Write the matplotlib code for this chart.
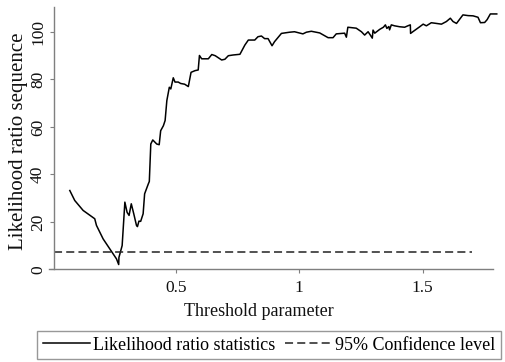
import matplotlib
matplotlib.use("Agg")
import matplotlib.pyplot as plt
from matplotlib.lines import Line2D

plt.rcParams['font.family'] = ['Liberation Serif', 'DejaVu Serif']
plt.rcParams['lines.scale_dashes'] = False

# Threshold parameter grid and likelihood ratio statistics
threshold = [0.071, 0.091, 0.125, 0.172, 0.179, 0.206, 0.233, 0.260, 0.269, 0.270,
             0.283, 0.294, 0.303, 0.311, 0.320, 0.330, 0.341, 0.345, 0.351, 0.358,
             0.368, 0.374, 0.389, 0.393, 0.399, 0.407, 0.423, 0.433, 0.439, 0.450,
             0.457, 0.464, 0.474, 0.480, 0.490, 0.497, 0.510, 0.520, 0.536, 0.551,
             0.562, 0.578, 0.591, 0.596, 0.605, 0.632, 0.646, 0.660, 0.686, 0.699,
             0.713, 0.732, 0.760, 0.780, 0.794, 0.820, 0.833, 0.847, 0.860, 0.874,
             0.890, 0.900, 0.928, 0.961, 0.981, 1.015, 1.029, 1.049, 1.083, 1.117,
             1.137, 1.150, 1.184, 1.191, 1.197, 1.231, 1.252, 1.265, 1.279, 1.288,
             1.296, 1.299, 1.306, 1.326, 1.341, 1.349, 1.355, 1.363, 1.366, 1.373,
             1.386, 1.407, 1.427, 1.440, 1.450, 1.451, 1.460, 1.488, 1.502, 1.515,
             1.535, 1.556, 1.576, 1.596, 1.612, 1.623, 1.637, 1.650, 1.663, 1.684,
             1.704, 1.724, 1.734, 1.751, 1.761, 1.774, 1.800]
lr_stat = [33.2, 29.0, 24.8, 21.3, 18.5, 12.8, 8.6, 4.4, 2.0, 5.0,
           10.0, 28.3, 24.0, 22.7, 27.6, 23.4, 18.5, 18.0, 20.3, 20.2,
           23.4, 31.8, 36.0, 37.0, 52.8, 54.5, 52.8, 52.5, 58.4, 60.5,
           62.7, 71.1, 76.7, 76.0, 80.7, 78.9, 78.9, 78.3, 78.0, 77.0,
           83.0, 83.7, 84.0, 90.1, 88.7, 88.7, 90.5, 90.0, 88.2, 88.5,
           90.0, 90.3, 90.6, 94.5, 96.6, 96.6, 98.0, 98.3, 97.2, 97.2,
           94.2, 95.9, 99.4, 99.9, 100.1, 99.2, 99.9, 100.3, 99.6, 97.6,
           97.6, 99.2, 99.5, 97.8, 102.0, 101.6, 100.1, 98.7, 100.1, 98.7,
           97.4, 100.8, 99.5, 101.1, 102.0, 103.0, 101.5, 102.3, 100.9, 103.0,
           102.6, 102.2, 102.0, 102.6, 103.0, 99.4, 100.1, 102.2, 103.3, 102.6,
           103.9, 103.6, 103.3, 104.4, 105.8, 104.4, 103.6, 105.4, 107.2, 106.9,
           106.8, 106.2, 103.9, 104.0, 105.2, 107.6, 107.6]

crit_x = [0.0085, 1.70]
crit_value = 7.35

xticks = [0.5, 1, 1.5]
xtick_labels = ["0.5", "1", "1.5"]
yticks = [0, 20, 40, 60, 80, 100]
ytick_labels = ["0", "20", "40", "60", "80", "100"]

W, H = 505, 362
fig = plt.figure(figsize=(W / 100, H / 100), dpi=100)
ax_l, ax_r, ax_t, ax_b = 49.3, 493.3, 7.3, 269.3
ax = fig.add_axes([ax_l / W, 1 - ax_b / H, (ax_r - ax_l) / W, (ax_b - ax_t) / H])

ax.plot(threshold, lr_stat, color='black', lw=1.1, clip_on=False, solid_joinstyle='round')
ax.plot(crit_x, [crit_value, crit_value], color='#222222', lw=1.1,
        dashes=(5.8, 3.0))

ax.set_xlim(-0.012, 1.786)
ax.set_ylim(0, 110.4)

for s in ['top', 'right']:
    ax.spines[s].set_visible(False)
ax.spines['left'].set_position(('data', 0.0085))
ax.spines['left'].set_bounds(0, 110.4)
for s in ['left', 'bottom']:
    ax.spines[s].set_color('#7f7f7f')
    ax.spines[s].set_linewidth(1.0)

ax.set_xticks(xticks)
ax.set_xticklabels(xtick_labels)
ax.set_yticks(yticks)
ax.set_yticklabels(ytick_labels, rotation=90, va='center')
ax.tick_params(axis='both', direction='out', length=3, width=0.8, color='#7f7f7f',
               labelsize=12.5, labelcolor='#111111')
ax.tick_params(axis='x', pad=5)
ax.tick_params(axis='y', pad=3)

ax.set_xlabel("Threshold parameter", fontsize=13, color='#111111')
ax.set_ylabel("Likelihood ratio sequence", fontsize=15, color='#111111')
ax.xaxis.set_label_coords((259 - ax_l) / (ax_r - ax_l), 1 - (312 - ax_t) / (ax_b - ax_t))
ax.yaxis.set_label_coords((19 - ax_l) / (ax_r - ax_l), 1 - (141 - ax_t) / (ax_b - ax_t))
ax.xaxis.label.set_va('center')
ax.yaxis.label.set_va('center')

handles = [Line2D([], [], color='black', lw=1.1),
           Line2D([], [], color='#222222', lw=1.1, dashes=(5.8, 3.0))]
leg = fig.legend(handles, ["Likelihood ratio statistics", "95% Confidence level"],
                 loc='center', bbox_to_anchor=(269 / W, 1 - 345 / H), ncol=2,
                 fontsize=13, frameon=True, fancybox=False, handlelength=2.6,
                 handletextpad=0.2, columnspacing=0.5, borderpad=0.3,
                 borderaxespad=0)
leg.get_frame().set_edgecolor('#7f7f7f')
leg.get_frame().set_linewidth(1.0)

fig.savefig("out.png", dpi=100, facecolor='white')
